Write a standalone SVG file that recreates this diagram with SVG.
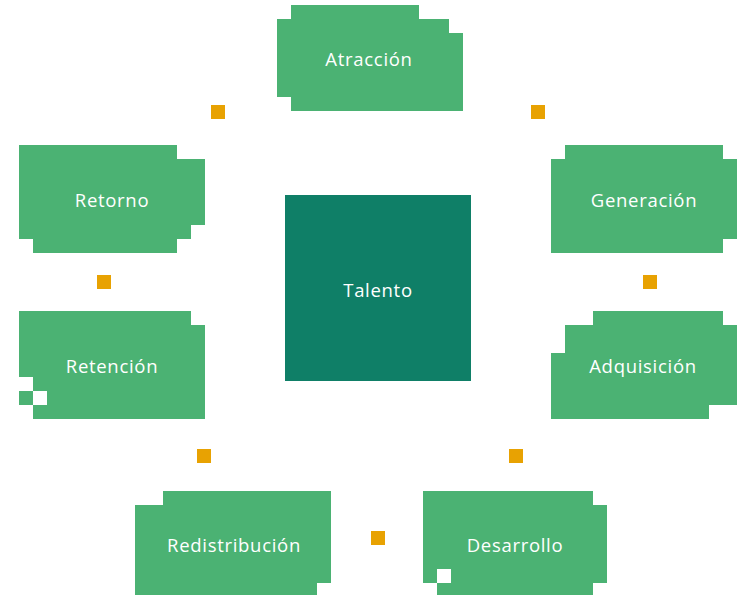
<svg xmlns="http://www.w3.org/2000/svg" width="742" height="595" viewBox="0 0 742 595">
<style>
.n{fill:#4BB273}
.c{fill:#0F7F67}
.d{fill:#E8A202}
.t{font-family:"Open Sans","Liberation Sans",sans-serif;font-size:18.5px;letter-spacing:0.7px;fill:#FFFFFF;text-anchor:middle}
</style>
<rect width="742" height="595" fill="#FFFFFF"/>
<g id="connectors">
<rect class="d" x="211" y="105" width="14" height="14"/>
<rect class="d" x="531" y="105" width="14" height="14"/>
<rect class="d" x="643" y="275" width="14" height="14"/>
<rect class="d" x="97" y="275" width="14" height="14"/>
<rect class="d" x="197" y="449" width="14" height="14"/>
<rect class="d" x="509" y="449" width="14" height="14"/>
<rect class="d" x="371" y="531" width="14" height="14"/>
</g>
<g id="talento">
<rect class="c" x="285" y="195" width="186" height="186"/>
<text class="t" x="378" y="297">Talento</text>
</g>
<g id="atraccion">
<path class="n" d="M291 5H419V19H449V33H463V111H291V97H277V19H291Z"/>
<text class="t" x="369" y="66">Atracción</text>
</g>
<g id="generacion">
<path class="n" d="M565 145H723V159H737V239H723V253H551V159H565Z"/>
<text class="t" x="644" y="207">Generación</text>
</g>
<g id="adquisicion">
<path class="n" d="M593 311H723V325H737V405H709V419H551V353H565V325H593Z"/>
<text class="t" x="643" y="373">Adquisición</text>
</g>
<g id="desarrollo">
<path class="n" d="M423 491H593V505H607V583H593V595H437V583H451V569H437V583H423Z"/>
<text class="t" x="515" y="552">Desarrollo</text>
</g>
<g id="redistribucion">
<path class="n" d="M163 491H331V583H317V595H135V505H163Z"/>
<text class="t" x="234" y="552">Redistribución</text>
</g>
<g id="retencion">
<path class="n" d="M19 311H191V325H205V419H33V405H47V391H33V405H19V391H33V377H19Z"/>
<text class="t" x="112" y="373">Retención</text>
</g>
<g id="retorno">
<path class="n" d="M19 145H177V159H205V225H191V239H177V253H33V239H19Z"/>
<text class="t" x="112" y="207">Retorno</text>
</g>
</svg>
